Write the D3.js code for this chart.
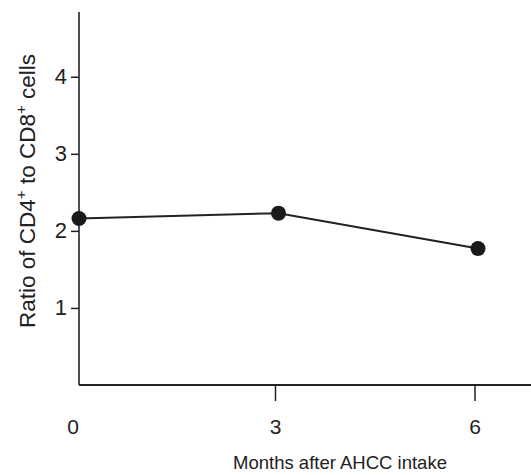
<!DOCTYPE html>
<html>
<head>
<meta charset="utf-8">
<script src="https://cdn.jsdelivr.net/npm/d3@7"></script>
<style>
body { margin: 0; background: #fff; }
svg { display: block; }
text { font-family: "Liberation Sans", Arial, sans-serif; fill: #222; }
</style>
</head>
<body>
<svg id="chart"></svg>
<script>
const months = [0, 3, 6];
const ratio = [2.16, 2.23, 1.77];
const yTicks = [1, 2, 3, 4];
const xTicks = [0, 3, 6];

const width = 531, height = 475;
const svg = d3.select("#chart").attr("width", width).attr("height", height);

const x = d3.scaleLinear().domain([0, 6]).range([79, 478]);
const y = d3.scaleLinear().domain([0, 4.84]).range([385, 12]);

// y axis
const yAxis = d3.axisLeft(y)
    .tickValues(yTicks)
    .tickSize(8)
    .tickPadding(4)
    .tickFormat(d3.format("d"));

const gy = svg.append("g")
    .attr("transform", `translate(${x(0)},0)`)
    .call(yAxis);
gy.select(".domain").remove();
gy.selectAll("line").attr("stroke", "#222").attr("stroke-width", 1.5);
gy.selectAll("text").attr("font-size", 22).attr("fill", "#222");

svg.append("line")
    .attr("x1", x(0)).attr("x2", x(0))
    .attr("y1", y(4.84)).attr("y2", y(0))
    .attr("stroke", "#222").attr("stroke-width", 1.6);

// x axis
svg.append("line")
    .attr("x1", x(0)).attr("x2", width)
    .attr("y1", y(0)).attr("y2", y(0))
    .attr("stroke", "#222").attr("stroke-width", 1.8);

svg.selectAll(".xtick")
    .data(xTicks.filter(d => d > 0))
    .join("line")
    .attr("class", "xtick")
    .attr("x1", d => x(d) - 3).attr("x2", d => x(d) - 3)
    .attr("y1", y(0)).attr("y2", y(0) + 16)
    .attr("stroke", "#222").attr("stroke-width", 1.5);

svg.selectAll(".xlabel")
    .data(xTicks)
    .join("text")
    .attr("class", "xlabel")
    .attr("x", d => d === 0 ? x(d) - 6 : x(d) - 3)
    .attr("y", 434)
    .attr("text-anchor", "middle")
    .attr("font-size", 21)
    .text(d => d);

// line + points
const line = d3.line()
    .x((d, i) => x(months[i]))
    .y(d => y(d));

svg.append("path")
    .datum(ratio)
    .attr("d", line)
    .attr("fill", "none")
    .attr("stroke", "#222")
    .attr("stroke-width", 2);

svg.selectAll(".pt")
    .data(ratio)
    .join("circle")
    .attr("class", "pt")
    .attr("cx", (d, i) => x(months[i]))
    .attr("cy", d => y(d))
    .attr("r", 7.5)
    .attr("fill", "#1a1a1a");

// axis titles
svg.append("text")
    .attr("x", 340)
    .attr("y", 469)
    .attr("text-anchor", "middle")
    .attr("font-size", 18.5)
    .text("Months after AHCC intake");

const yt = svg.append("text")
    .attr("transform", "translate(35,191) rotate(-90)")
    .attr("text-anchor", "middle")
    .attr("font-size", 22.5);
yt.append("tspan").text("Ratio of CD4");
yt.append("tspan").attr("font-size", 15).attr("dy", -9).text("+");
yt.append("tspan").attr("dy", 9).text(" to CD8");
yt.append("tspan").attr("font-size", 15).attr("dy", -9).text("+");
yt.append("tspan").attr("dy", 9).text(" cells");
</script>
</body>
</html>
